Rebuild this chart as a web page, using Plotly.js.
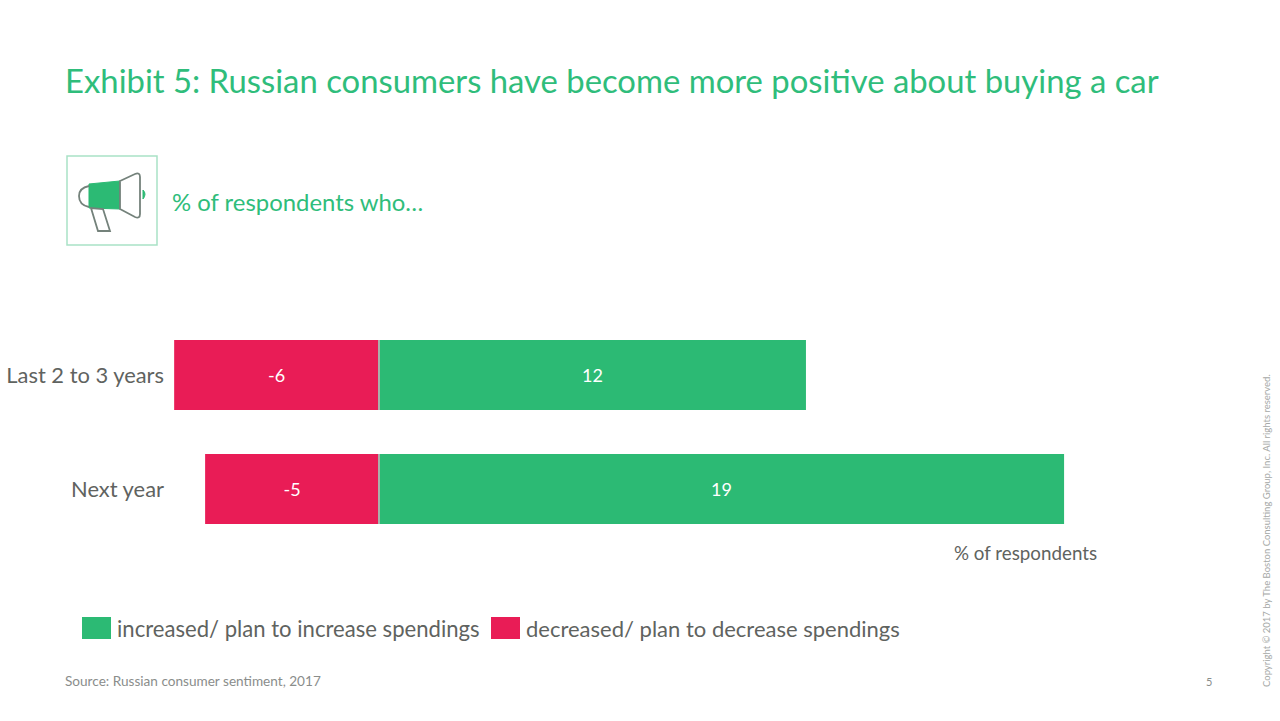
<!DOCTYPE html>
<html><head><meta charset="utf-8">
<script src="https://cdn.plot.ly/plotly-3.0.1.min.js"></script>
<style>html,body{margin:0;padding:0;background:#fff}#c{width:1280px;height:721px}</style></head>
<body><div id="c"></div>
<script>
const categories = ["Last 2 to 3 years", "Next year"];
const increased = [11.86, 19.03];
const decreased = [-5.69, -4.83];
const increasedLabels = ["12", "19"];
const decreasedLabels = ["-6", "-5"];
const increasedName = "increased/ plan to increase spendings";
const decreasedName = "decreased/ plan to decrease spendings";

const FONT = "Lato, 'Open Sans', sans-serif";
const GREEN = "#2cba74", RED = "#e91c56", GREY = "#5f6360";
const W = 1280, H = 721, M = {l:170, r:180, t:318, b:175};
const pw = W-M.l-M.r, ph = H-M.t-M.b;
const px = v => (v-M.l)/pw, py = v => (H-M.b-v)/ph;
const P = (x,y) => px(x).toFixed(5)+","+py(y).toFixed(5);
const pathOf = pts => pts.map((p,i)=>(i?"L":"M")+P(p[0],p[1])).join(" ")+" Z";
const note = (text,x,y,size,color,anchor,extra) => Object.assign({text,x:px(x),y:py(y),xref:"paper",yref:"paper",
  xanchor:anchor||"left",yanchor:"middle",showarrow:false,font:{family:FONT,size,color}},extra||{});
const box = (x0,y0,x1,y1,fill,line,lw) => ({type:"rect",xref:"paper",yref:"paper",x0:px(x0),x1:px(x1),y0:py(y0),y1:py(y1),
  fillcolor:fill,line:{color:line||fill,width:lw||0}});
const poly = (pts,fill,line,lw) => ({type:"path",xref:"paper",yref:"paper",path:pathOf(pts),fillcolor:fill,line:{color:line,width:lw}});
const curve = (d,fill,line,lw) => ({type:"path",xref:"paper",yref:"paper",path:d,fillcolor:fill,line:{color:line,width:lw}});

const traces = [
 {type:"bar",orientation:"h",name:decreasedName,y:categories,x:decreased,text:decreasedLabels,
  marker:{color:RED},textposition:"inside",insidetextanchor:"middle",
  textfont:{family:FONT,size:18,color:"#fff"},hoverinfo:"y+text"},
 {type:"bar",orientation:"h",name:increasedName,y:categories,x:increased,text:increasedLabels,
  marker:{color:GREEN},textposition:"inside",insidetextanchor:"middle",
  textfont:{family:FONT,size:18,color:"#fff"},hoverinfo:"y+text"}
];
const dividers = [0,1].map(i=>({type:"line",xref:"x",yref:"y",x0:0,x1:0,y0:i-0.307,y1:i+0.307,line:{color:"#a9afab",width:2}}));
const ICON = "#74827b";
const layout = {
 width:W,height:H,margin:M,paper_bgcolor:"#fff",plot_bgcolor:"#fff",barmode:"relative",bargap:0.386,showlegend:false,
 font:{family:FONT,color:GREY},
 xaxis:{range:[(M.l-379)/36,(W-M.r-379)/36],visible:false,fixedrange:true},
 yaxis:{type:"category",categories:categories,autorange:"reversed",showgrid:false,zeroline:false,showline:false,ticks:"",ticklen:0,
   ticklabelstandoff:5,tickfont:{family:FONT,size:21.9,color:GREY},fixedrange:true},
 shapes:[...dividers,
   box(67,156,157,245,"rgba(0,0,0,0)","#a9e2c6",1.5),
   poly([[89,184],[120,181],[120,209],[89,208]],GREEN,GREEN,1),
   curve("M"+P(120,181)+" L"+P(135,174)+" Q"+P(140,172)+" "+P(140,177)+" L"+P(140,214)+" Q"+P(140,219)+" "+P(135,217)+" L"+P(120,209)+" Z","#fff",ICON,1.8),
   curve("M"+P(89,186)+" Q"+P(79,188)+" "+P(79,196)+" Q"+P(79,205)+" "+P(89,207),"rgba(0,0,0,0)",ICON,1.8),
   poly([[91,208],[98,231],[110,231],[103,209]],"rgba(0,0,0,0)",ICON,1.8),
   curve("M"+P(143,190)+" Q"+P(147,194)+" "+P(143,199)+" Z",GREEN,GREEN,1),
   box(82,617,111,639,GREEN),
   box(491,617,520,639,RED)
 ],
 annotations:[
   note("Exhibit 5: Russian consumers have become more positive about buying a car",63,80,32.85,"#2fbd7b"),
   note("% of respondents who…",170,201,23.9,"#2fbd7b"),
   note("% of respondents",1099,552,18.8,GREY,"right"),
   note(increasedName,115,628,22.1,GREY),
   note(decreasedName,524,628,22,GREY),
   note("Source: Russian consumer sentiment, 2017",63,681,13.6,"#8a8d8b"),
   note("5",1209,681,11,"#8a8d8b","center"),
   note("Copyright © 2017 by The Boston Consulting Group, Inc. All rights reserved.",1266,531,9.5,"#a5a8a6","center",{textangle:-90})
 ]
};
Plotly.newPlot("c",traces,layout,{displayModeBar:false,staticPlot:true});
</script></body></html>
